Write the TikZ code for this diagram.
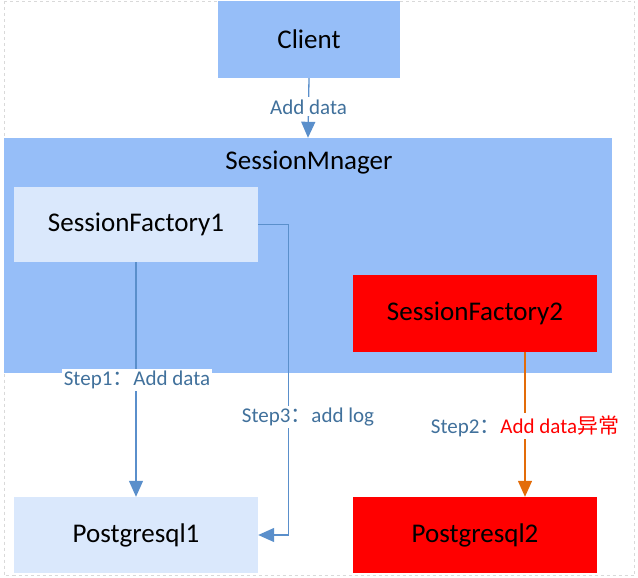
\documentclass[tikz,border=0pt]{standalone}
\usepackage{fontspec}
\setmainfont{Carlito}
\newfontfamily\cjk{Noto Sans CJK SC}
\usepackage{xcolor}
\usetikzlibrary{calc,arrows.meta}
\definecolor{boxblue}{HTML}{96BEF8}
\definecolor{boxlight}{HTML}{DAE8FC}
\definecolor{boxred}{HTML}{FF0000}
\definecolor{flowblue}{HTML}{5A8FCB}
\definecolor{labblue}{HTML}{41719C}
\definecolor{floworange}{HTML}{E36C09}
\definecolor{frame}{HTML}{D9D9D9}
\tikzset{
  box/.style={rectangle, draw=none, inner sep=0pt, font=\fontsize{27}{31}\selectfont, text=black},
  boxb/.style={box, fill=boxblue},
  boxl/.style={box, fill=boxlight},
  boxr/.style={box, fill=boxred},
  flow/.style={draw=flowblue, line width=1.3pt, -{Triangle[width=14pt,length=16pt]}},
  flowo/.style={draw=floworange, line width=1.3pt, -{Triangle[width=14pt,length=16pt]}},
  lab/.style={fill=white, inner sep=2pt, text=labblue, font=\fontsize{21}{25}\selectfont}
}
\begin{document}
\begin{tikzpicture}[x=1pt,y=-1pt]
  \useasboundingbox (0,0) rectangle (638,578);
  \draw[frame, dashed, line width=0.8pt] (4.5,1.5) rectangle (634.5,575.5);
  % boxes
  \node[boxb, minimum width=608pt, minimum height=235pt] (mgr) at (308,255.5) {};
  \node[box] (mgrtext) at (309,163) {SessionMnager};
  \node[boxb, minimum width=182pt, minimum height=77pt] (client) at (309,39.5) {Client};
  \node[boxl, minimum width=244pt, minimum height=75pt] (sf1) at (136,224.5) {SessionFactory1};
  \node[boxr, minimum width=244pt, minimum height=77pt] (sf2) at (475,313.5) {SessionFactory2};
  \node[boxl, minimum width=244pt, minimum height=76pt] (pg1) at (136,535) {Postgresql1};
  \node[boxr, minimum width=244pt, minimum height=76pt] (pg2) at (475,535) {Postgresql2};
  % connectors
  \draw[flow] (client.south) -- (mgr.north) node[lab, pos=0.48] {Add data};
  \draw[flow] (sf1.south) -- (pg1.north);
  \node[lab] (step1) at (137,380) {Step1{\cjk ：}Add data};
  \draw[flow] (sf1.east) -- ++(30,0) coordinate (bend) -- (bend |- pg1.east) -- (pg1.east);
  \node[lab] (step3) at (308,417) {Step3{\cjk ：}add log};
  \draw[flowo] ([xshift=50pt]sf2.south) -- ([xshift=50pt]pg2.north);
  \node[lab] (step2) at (525,426) {Step2{\cjk ：}\textcolor{boxred}{Add data{\cjk 异常}}};
\end{tikzpicture}
\end{document}
